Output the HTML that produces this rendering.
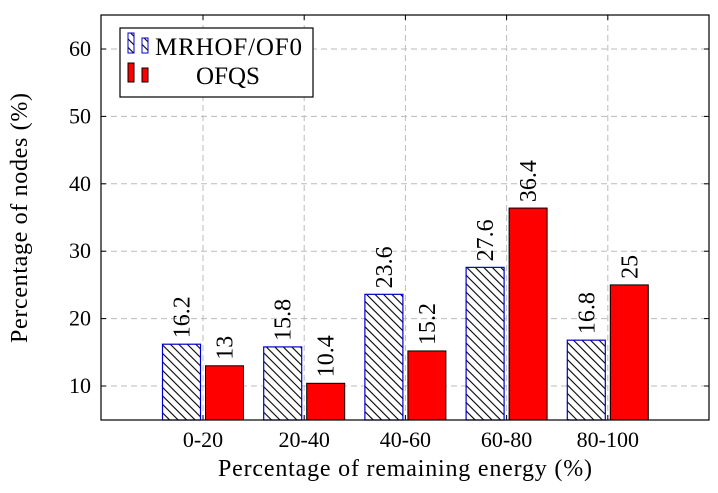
<!DOCTYPE html>
<html><head><meta charset="utf-8"><style>
body{margin:0;background:#fff;}
svg{display:block;font-family:"Liberation Serif",serif;}
</style></head><body>
<svg id="c" width="718" height="493">
<defs>
<pattern id="hatch" patternUnits="userSpaceOnUse" width="6" height="6" patternTransform="rotate(45)">
<rect width="6" height="6" fill="#fff"/><line x1="0" y1="3" x2="6" y2="3" stroke="#000" stroke-width="1.1"/>
</pattern>
</defs>
</svg>
<script>
const categories=["0-20","20-40","40-60","60-80","80-100"];
const mrhof=[16.2,15.8,23.6,27.6,16.8];
const ofqs=[13,10.4,15.2,36.4,25];
const mrhofLabels=["16.2","15.8","23.6","27.6","16.8"];
const ofqsLabels=["13","10.4","15.2","36.4","25"];
const yTicks=[10,20,30,40,50,60];
const NS="http://www.w3.org/2000/svg";
const svg=document.getElementById('c');
const L=101,R=709,T=15,B=420;
const y=v=>386-(v-10)*6.74;
const x=i=>203+101.2*i;
function mk(t,a,p){const e=document.createElementNS(NS,t);for(const k in a)e.setAttribute(k,a[k]);(p||svg).appendChild(e);return e;}
yTicks.forEach(v=>{
 const g=mk('line',{x1:L,x2:R,y1:y(v),y2:y(v),stroke:'#bbb','stroke-dasharray':'6,4'});
 
 
 const t=mk('text',{x:L-10,y:y(v)+7,'text-anchor':'end','font-size':22});
 t.textContent=v;
 
 
 mk('line',{x1:L,x2:L+5,y1:y(v),y2:y(v),stroke:'#000'});
 mk('line',{x1:R-5,x2:R,y1:y(v),y2:y(v),stroke:'#000'});
});
categories.forEach((c,i)=>{
 const g=mk('line',{x1:x(i),x2:x(i),y1:T,y2:B,stroke:'#bbb','stroke-dasharray':'6,4'});
 
 
 const t=mk('text',{x:x(i),y:447,'text-anchor':'middle','font-size':22});
 t.textContent=c;
 
 
 mk('line',{x1:x(i),x2:x(i),y1:B,y2:B-5,stroke:'#000'});
 mk('line',{x1:x(i),x2:x(i),y1:T,y2:T+5,stroke:'#000'});
});
categories.forEach((c,i)=>{
 const x0=x(i)-40.5, x1=x(i)+2.5;
 const b1=mk('rect',{x:x0,y:y(mrhof[i]),width:38,height:B-y(mrhof[i]),fill:'url(#hatch)',stroke:'#00c','stroke-width':1.2});
 
 
 const b2=mk('rect',{x:x1,y:y(ofqs[i]),width:38,height:B-y(ofqs[i]),fill:'#f00',stroke:'#000','stroke-width':1});
 
 
 [[x0+19,mrhof[i],mrhofLabels[i]],[x1+19,ofqs[i],ofqsLabels[i]]].forEach(([cx,v,lab])=>{
  const t=mk('text',{transform:`translate(${cx+8},${y(v)-6}) rotate(-90)`,'font-size':24});
  t.textContent=lab;
  
  
 });
});
mk('rect',{x:L,y:T,width:R-L,height:B-T,fill:'none',stroke:'#000','stroke-width':1.2});
const xt=mk('text',{x:218,y:476,'font-size':24,textLength:374,lengthAdjust:'spacing'});
xt.textContent='Percentage of remaining energy (%)';


const yt=mk('text',{transform:'translate(27,343) rotate(-90)','font-size':24,textLength:250,lengthAdjust:'spacing'});
yt.textContent='Percentage of nodes (%)';


const lg=mk('g',{});


mk('rect',{x:120,y:28,width:193,height:69,fill:'#fff',stroke:'#000','stroke-width':1.2},lg);
mk('rect',{x:128,y:33,width:6,height:20,fill:'url(#hatch)',stroke:'#00c'},lg);
mk('rect',{x:142,y:38,width:6,height:15,fill:'url(#hatch)',stroke:'#00c'},lg);
mk('rect',{x:128,y:63,width:6,height:19,fill:'#f00',stroke:'#000'},lg);
mk('rect',{x:142,y:68,width:6,height:14,fill:'#f00',stroke:'#000'},lg);
const l1=mk('text',{x:155,y:55,'font-size':25,textLength:147,lengthAdjust:'spacing'},lg);l1.textContent='MRHOF/OF0';


const l2=mk('text',{x:228,y:84,'font-size':25,'text-anchor':'middle'},lg);l2.textContent='OFQS';


</script>
</body></html>
